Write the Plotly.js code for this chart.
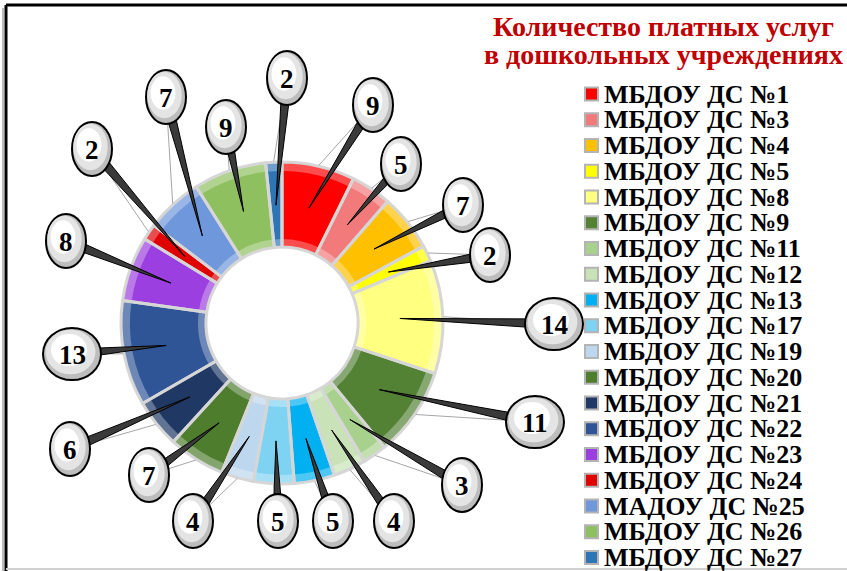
<!DOCTYPE html>
<html>
<head>
<meta charset="utf-8">
<script src="https://cdn.plot.ly/plotly-3.0.1.min.js"></script>
<style>html,body{margin:0;padding:0;background:#fff;}#chart{width:847px;height:571px;}</style>
</head>
<body>
<div id="chart"></div>
<script>
// ---- data ----
const labels = ['МБДОУ ДС №1','МБДОУ ДС №3','МБДОУ ДС №4','МБДОУ ДС №5','МБДОУ ДС №8','МБДОУ ДС №9','МБДОУ ДС №11','МБДОУ ДС №12','МБДОУ ДС №13','МБДОУ ДС №17','МБДОУ ДС №19','МБДОУ ДС №20','МБДОУ ДС №21','МБДОУ ДС №22','МБДОУ ДС №23','МБДОУ ДС №24','МАДОУ ДС №25','МБДОУ ДС №26','МБДОУ ДС №27'];
const values = [9,5,7,2,14,11,3,4,5,5,4,7,6,13,8,2,7,9,2];
const titleLines = ['Количество платных услуг','в дошкольных учреждениях'];

// ---- styles / layout (not data) ----
const colors = ['#ff0000','#f27a7a','#ffc000','#ffff00','#ffff80','#548235','#a9d18e','#c9e2b8','#00b0f0','#7fd3f2','#bdd7ee','#4e7d2e','#1f3864','#2f5597','#9c3fe0','#e00000','#6f97dc','#8fc060','#2e75b6'];
// callout balloon centres (pixels), like manually placed Excel labels
const calloutX = [373,401,463,490,554,535,462,394,333,278,193,149,70,72,66,92,166,226,287];
const calloutY = [105,164,205,255,324,422,485,521,521,521,521,475,449,354,241,149,97,127,78];

const W = 847, H = 571, CX = 282, CY = 323, R = 161, RIN = 76;
const px = x => x / W;
const py = y => 1 - y / H;
const dom = r => ({x: [px(CX - r), px(CX + r)], y: [py(CY + r), py(CY - r)]});

function tint(hex, f) {
  const n = parseInt(hex.slice(1), 16);
  const r = (n >> 16) & 255, g = (n >> 8) & 255, b = n & 255;
  const m = c => Math.round(c + (255 - c) * f);
  return 'rgb(' + m(r) + ',' + m(g) + ',' + m(b) + ')';
}

const common = {type: 'pie', labels: labels, values: values, sort: false, direction: 'clockwise',
  rotation: 0, textinfo: 'none', hoverinfo: 'label+value', showlegend: false};

const traces = [
  Object.assign({}, common, {domain: dom(R), hole: RIN / R,
    marker: {colors: colors.map(c => tint(c, 0.3)), line: {width: 0}}}),
  Object.assign({}, common, {domain: dom(R - 9), hole: (RIN + 8) / (R - 9),
    marker: {colors: colors, line: {width: 0}}}),
  Object.assign({}, common, {domain: dom(R), hole: RIN / R,
    marker: {colors: colors.map(() => 'rgba(0,0,0,0)'), line: {color: '#d6d6d6', width: 3}}})
];

const total = values.reduce((a, b) => a + b, 0);
const shapes = [], annotations = [];

// frame
shapes.push({type: 'line', xref: 'paper', yref: 'paper', x0: px(6), x1: px(847), y0: py(5), y1: py(5), line: {color: '#000', width: 3}});
shapes.push({type: 'line', xref: 'paper', yref: 'paper', x0: px(6), x1: px(6), y0: py(5), y1: py(571), line: {color: '#000', width: 3}});
shapes.push({type: 'line', xref: 'paper', yref: 'paper', x0: px(3), x1: px(3), y0: py(8), y1: py(571), line: {color: '#bbb', width: 2}});
shapes.push({type: 'line', xref: 'paper', yref: 'paper', x0: px(6), x1: px(847), y0: py(569), y1: py(569), line: {color: '#d0d0d0', width: 2}});

// callouts
let cum = 0;
const leaders = [], cones = [], balloons = [];
values.forEach((v, i) => {
  const th = (cum + v / 2) / total * 2 * Math.PI;
  cum += v;
  const sx = Math.sin(th), cy = Math.cos(th);
  const tx = CX + 118 * sx, ty = CY - 118 * cy;
  const ex = CX + (R + 1) * sx, ey = CY - (R + 1) * cy;
  const bx = calloutX[i], by = calloutY[i];
  leaders.push({type: 'line', xref: 'paper', yref: 'paper', x0: px(ex), y0: py(ey), x1: px(bx), y1: py(by), line: {color: '#a6a6a6', width: 1}});
  const dx = tx - bx, dy = ty - by, L = Math.hypot(dx, dy);
  const nx = -dy / L * 5, ny = dx / L * 5;
  cones.push({type: 'path', xref: 'paper', yref: 'paper',
    path: 'M' + px(bx + nx) + ',' + py(by + ny) + ' L' + px(tx) + ',' + py(ty) + ' L' + px(bx - nx) + ',' + py(by - ny) + ' Z',
    fillcolor: '#3a3a3a', line: {color: '#000', width: 1}});
  const two = String(v).length > 1;
  const w = two ? 58 : 40, h = two ? 52 : 54;
  const ell = (cx0, cy0, ww, hh, fill, lw) => ({type: 'circle', xref: 'paper', yref: 'paper',
    x0: px(cx0 - ww / 2), x1: px(cx0 + ww / 2), y0: py(cy0 + hh / 2), y1: py(cy0 - hh / 2),
    fillcolor: fill, line: {color: '#000', width: lw}});
  balloons.push(ell(bx, by, w, h, '#bdbdbd', 2));
  balloons.push(ell(bx - 1.5, by - 2, w * 0.86, h * 0.86, '#e4e4e4', 0));
  balloons.push(ell(bx - 3, by - 4, w * 0.62, h * 0.62, '#ffffff', 0));
  annotations.push({xref: 'paper', yref: 'paper', x: px(bx), y: py(by + 1), text: '<b>' + v + '</b>', showarrow: false,
    xanchor: 'center', yanchor: 'middle', font: {family: 'Liberation Serif, Times New Roman, serif', size: 27, color: '#000'}});
});
shapes.push(...leaders, ...cones, ...balloons);

// custom legend (entries from the data arrays)
labels.forEach((lab, i) => {
  const yc = 94 + i * 25.75;
  shapes.push({type: 'rect', xref: 'paper', yref: 'paper', x0: px(585), x1: px(598), y0: py(yc + 6.5), y1: py(yc - 6.5),
    fillcolor: colors[i], line: {color: '#b4b4b4', width: 2}});
  annotations.push({xref: 'paper', yref: 'paper', x: px(602), y: py(yc), text: '<b>' + lab + '</b>', showarrow: false,
    xanchor: 'left', yanchor: 'middle', font: {family: 'Liberation Serif, Times New Roman, serif', size: 26, color: '#000'}});
});

// title
titleLines.forEach((t, k) => {
  annotations.push({xref: 'paper', yref: 'paper', x: px(663), y: py(26 + k * 29), text: '<b>' + t + '</b>', showarrow: false,
    xanchor: 'center', yanchor: 'middle', font: {family: 'Liberation Serif, Times New Roman, serif', size: 28, color: '#c00000'}});
});

const layout = {width: W, height: H, margin: {l: 0, r: 0, t: 0, b: 0}, paper_bgcolor: '#fff', plot_bgcolor: '#fff',
  showlegend: false, shapes: shapes, annotations: annotations};

Plotly.newPlot('chart', traces, layout, {displayModeBar: false, staticPlot: true});
</script>
</body>
</html>
